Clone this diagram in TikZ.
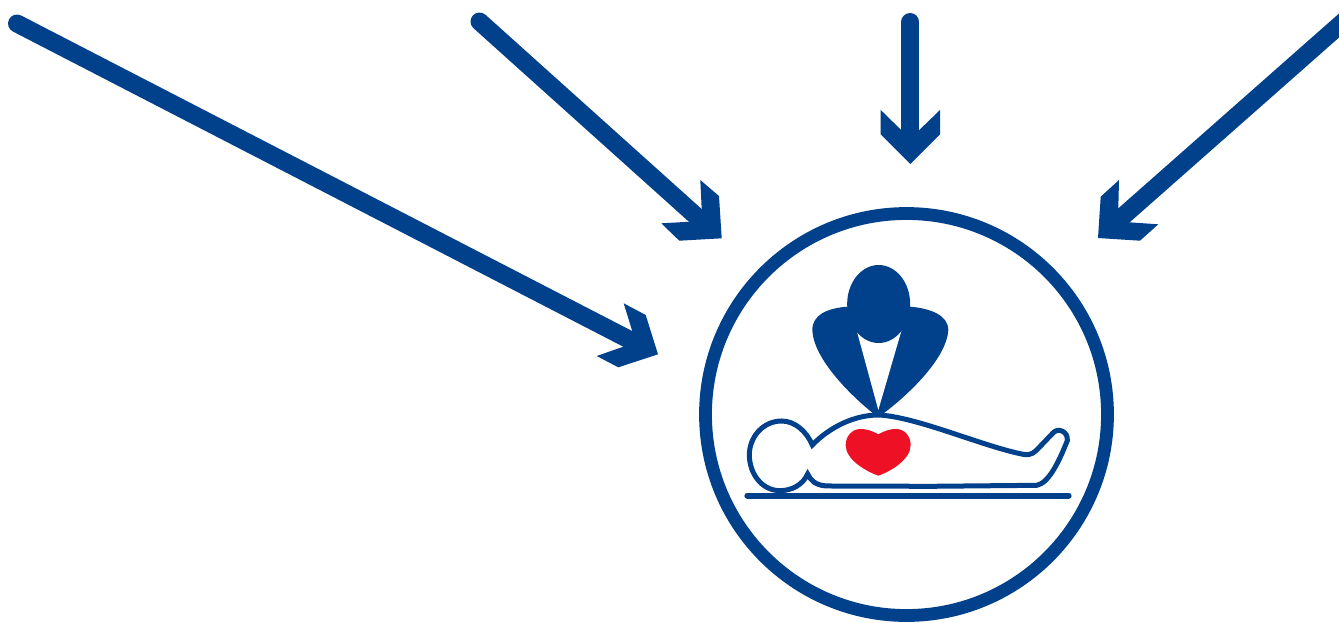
\documentclass[tikz,border=0pt]{standalone}
\definecolor{cprblue}{HTML}{01408B}
\definecolor{cprred}{HTML}{EE1125}
\tikzset{
  shaft/.style={draw=cprblue,line width=18pt,line cap=round},
  headfill/.style={fill=cprblue,draw=none},
  ringline/.style={draw=cprblue,line width=12.8pt},
  bodyline/.style={draw=cprblue,line width=5pt,line join=miter,fill=white},
  baseline/.style={draw=cprblue,line width=6pt,line cap=round}
}
\begin{document}
\begin{tikzpicture}[x=1pt,y=-1pt]
\useasboundingbox (0,0) rectangle (1339,622);
\clip (0,0) rectangle (1339,622);
% ring
\coordinate (ringc) at (906.5,414.5);
\draw[ringline] (ringc) circle[radius=201pt];
% arrows
\coordinate (a1s) at (17,23.5);     \coordinate (a1e) at (628,339);
\coordinate (a2s) at (479.5,21.5);  \coordinate (a2e) at (696,216);
\coordinate (a3s) at (910.3,22);    \coordinate (a3e) at (910.3,135);
\coordinate (a4s) at (1360,7);      \coordinate (a4e) at (1124,215.3);
\draw[shaft] (a1s) -- (a1e);
\draw[shaft] (a2s) -- (a2e);
\draw[shaft] (a3s) -- (a3e);
\draw[shaft] (a4s) -- (a4e);
\fill[headfill] (623.7,303.3) -- (645.7,315) -- (658,354.3) -- (618.3,367.3) -- (596.7,356) -- (623.3,346.7) -- (632.3,331.3) -- cycle;
\fill[headfill] (700.3,180) -- (719,196) -- (721.7,238.3) -- (679.3,240.7) -- (661.3,223.3) -- (690,221.7) -- (701.7,209.3) -- cycle;
\fill[headfill] (880.7,110) -- (901.2,130) -- (919.3,130) -- (940,110) -- (940,134.3) -- (910.3,164) -- (880.7,134.3) -- cycle;
\fill[headfill] (1119,180) -- (1100.7,196.7) -- (1098,238) -- (1140,240.7) -- (1158.3,224.3) -- (1129.3,222.3) -- (1118.3,208.3) -- cycle;
% figure, in 3x crop coordinates
\begin{scope}[shift={(730,250)},x=0.3333pt,y=-0.3333pt]
  % rescuer shoulders
  \fill[headfill] (445,300) -- (352,170) .. controls (290,175) and (247,195) .. (247,240)
     .. controls (250,325) and (360,435) .. (432,492) -- (458,492)
     .. controls (535,435) and (650,325) .. (655,240)
     .. controls (655,195) and (600,175) .. (540,170) -- cycle;
  \fill[white] (381,245) -- (445,480) -- (515,240) -- cycle;
  \fill[headfill] (446,162) ellipse[x radius=94.5pt*0.3333, y radius=117pt*0.3333];
  % patient
  \draw[bodyline] (247,585) .. controls (300,530) and (375,495) .. (445,495)
     .. controls (560,500) and (760,590) .. (880,613)
     .. controls (905,618) and (915,605) .. (925,595)
     -- (970,548) .. controls (985,532) and (1015,545) .. (1012,572)
     .. controls (985,640) and (955,700) .. (920,706)
     -- (600,709) -- (290,708) .. controls (255,706) and (242,690) .. (233,672)
     .. controls (218,705) and (185,722) .. (150,722)
     .. controls (95,722) and (58,670) .. (58,615)
     .. controls (58,560) and (100,513) .. (155,513)
     .. controls (195,513) and (230,545) .. (247,585) -- cycle;
  % heart
  \fill[cprred] (445,553) .. controls (425,542) and (410,537) .. (392,537)
     .. controls (365,537) and (347,560) .. (347,585)
     .. controls (347,630) and (410,665) .. (445,677)
     .. controls (480,665) and (542,630) .. (542,585)
     .. controls (542,560) and (525,537) .. (498,537)
     .. controls (480,537) and (465,542) .. (445,553) -- cycle;
  % ground line
  \coordinate (gl) at (52,737); \coordinate (gr) at (1016,737);
  \draw[baseline] (gl) -- (gr);
\end{scope}
\end{tikzpicture}
\end{document}
